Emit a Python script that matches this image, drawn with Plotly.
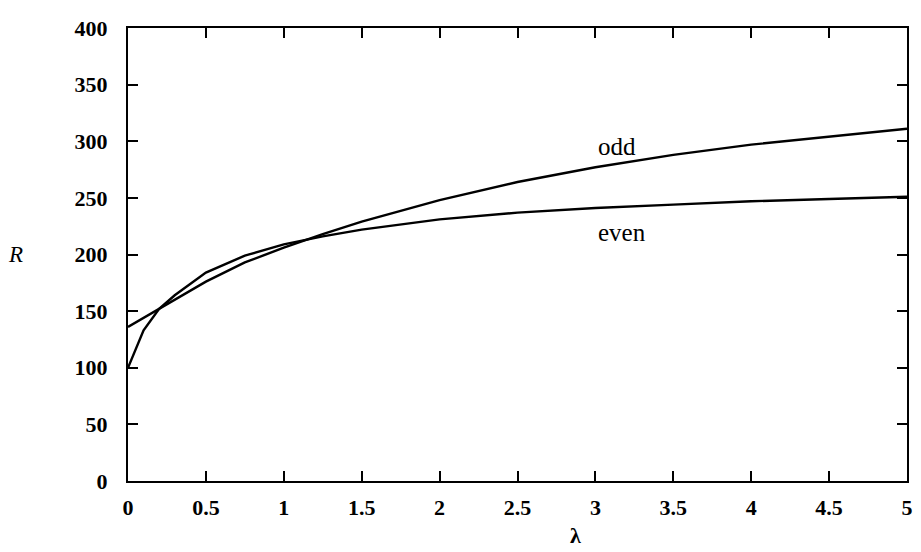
import plotly.graph_objects as go

lam = [0, 0.1, 0.2, 0.3, 0.5, 0.75, 1, 1.25, 1.5, 2, 2.5, 3, 3.5, 4, 4.5, 5]
R_even = [100, 133, 152, 164, 184, 199, 209, 216, 222, 231, 237, 241, 244, 247, 249, 251]
R_odd = [136, 144, 152, 160, 176, 193, 206, 218, 229, 248, 264, 277, 288, 297, 304, 311]

x_ticks = [0, 0.5, 1, 1.5, 2, 2.5, 3, 3.5, 4, 4.5, 5]
x_tick_text = ["0", "0.5", "1", "1.5", "2", "2.5", "3", "3.5", "4", "4.5", "5"]
y_ticks = [0, 50, 100, 150, 200, 250, 300, 350, 400]

FONT = "Liberation Serif"

fig = go.Figure()
fig.add_trace(go.Scatter(x=lam, y=R_even, mode="lines", name="even",
                         line=dict(color="black", width=2.4)))
fig.add_trace(go.Scatter(x=lam, y=R_odd, mode="lines", name="odd",
                         line=dict(color="black", width=2.4)))

fig.add_annotation(x=3.14, y=295, text="odd", showarrow=False,
                   font=dict(family=FONT, size=25, color="black"))
fig.add_annotation(x=3.17, y=219, text="even", showarrow=False,
                   font=dict(family=FONT, size=25, color="black"))
fig.add_annotation(x=2.87, y=-0.152, xref="x", yref="paper", text="<b>λ</b>",
                   showarrow=False, yanchor="bottom",
                   font=dict(family=FONT, size=22, color="black"))
fig.add_annotation(x=-0.145, y=200, xref="paper", yref="y", text="<i>R</i>",
                   showarrow=False, xanchor="center",
                   font=dict(family=FONT, size=23, color="black"))

axis_common = dict(showgrid=False, zeroline=False, showline=True, linecolor="black",
                   linewidth=2, mirror="ticks", ticks="inside", ticklen=10,
                   tickwidth=2, tickcolor="black", ticklabeloverflow="allow",
                   tickfont=dict(family=FONT, size=22, color="black", weight="bold"))

# page body has an 8px default margin, so the figure is sized/offset to compensate
fig.update_layout(
    width=913, height=544,
    margin=dict(l=120, r=8, t=8, b=71),
    paper_bgcolor="white", plot_bgcolor="white",
    showlegend=False,
    xaxis=dict(range=[0, 5], tickvals=x_ticks, ticktext=x_tick_text,
               ticklabelstandoff=6, **axis_common),
    yaxis=dict(range=[0, 400], tickvals=y_ticks, ticklabelstandoff=14,
               **axis_common),
)

fig.write_html("out.html")
